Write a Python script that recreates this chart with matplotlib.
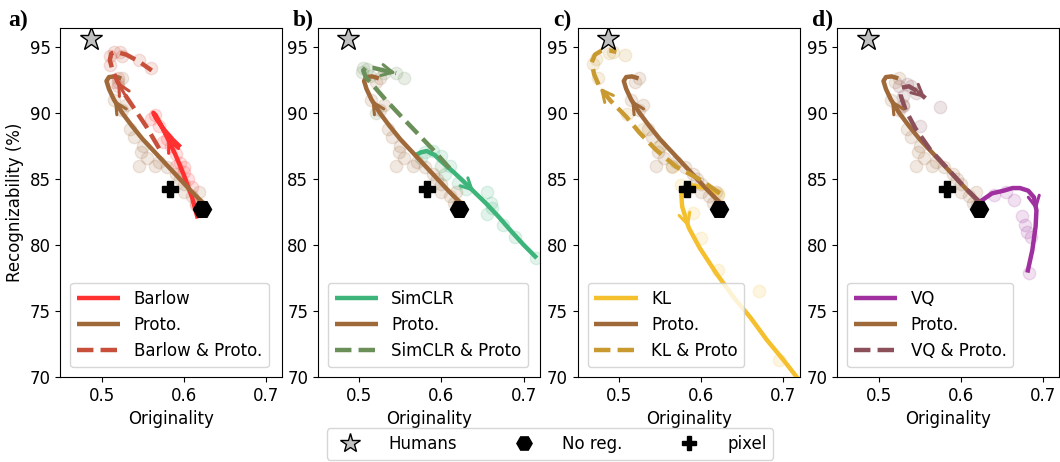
import matplotlib
matplotlib.use("Agg")
import matplotlib.pyplot as plt
from matplotlib.lines import Line2D

# reference markers
HUMANS = (0.487, 95.55)
NOREG = (0.622, 82.7)
PIXEL = (0.583, 84.2)

# Proto. curve (shared by all panels)
proto_x = [0.623, 0.610, 0.595, 0.580, 0.565, 0.550, 0.537, 0.525, 0.515, 0.509, 0.506, 0.509, 0.516, 0.524]
proto_y = [83.2, 84.0, 85.0, 86.0, 87.0, 88.0, 89.0, 90.0, 91.0, 91.8, 92.4, 92.7, 92.75, 92.6]
proto_px = [0.525, 0.520, 0.515, 0.530, 0.525, 0.535, 0.540, 0.550, 0.548, 0.555, 0.565, 0.570, 0.580,
            0.590, 0.595, 0.600, 0.600, 0.610, 0.615, 0.620, 0.618, 0.545]
proto_py = [92.6, 92.3, 91.0, 90.6, 90.2, 88.8, 88.2, 87.5, 87.0, 86.6, 86.0, 86.3, 85.9,
            85.4, 85.0, 84.6, 84.0, 83.7, 83.2, 83.0, 84.0, 86.0]

# Barlow
barlow_x = [0.617, 0.610, 0.600, 0.590, 0.580, 0.572, 0.566, 0.563, 0.566, 0.575, 0.586, 0.596]
barlow_y = [82.0, 83.6, 85.3, 86.8, 88.1, 89.1, 89.8, 90.0, 89.6, 88.8, 88.0, 87.4]
barlow_px = [0.565, 0.560, 0.570, 0.580, 0.585, 0.590, 0.595, 0.600, 0.600, 0.605, 0.610, 0.615, 0.620, 0.590, 0.575]
barlow_py = [89.8, 89.5, 89.0, 88.0, 87.5, 86.9, 86.2, 85.9, 85.5, 85.0, 84.4, 83.0, 82.6, 86.0, 87.8]
bp_x = [0.570, 0.555, 0.540, 0.528, 0.519, 0.513, 0.510, 0.512, 0.518, 0.530, 0.545, 0.561]
bp_y = [87.3, 88.9, 90.3, 91.4, 92.4, 93.3, 94.0, 94.5, 94.6, 94.4, 93.9, 93.2]
bp_px = [0.510, 0.515, 0.525, 0.545, 0.560, 0.510, 0.520, 0.515, 0.520, 0.522]
bp_py = [94.3, 94.6, 94.3, 94.0, 93.4, 93.6, 92.6, 92.3, 92.0, 94.6]

# SimCLR
simclr_x = [0.569, 0.575, 0.582, 0.592, 0.602, 0.615, 0.627, 0.640, 0.655, 0.670, 0.684, 0.700, 0.716]
simclr_y = [86.8, 87.0, 87.1, 86.8, 86.2, 85.5, 84.8, 84.0, 83.1, 82.1, 81.1, 80.0, 79.0]
simclr_px = [0.575, 0.580, 0.590, 0.600, 0.610, 0.605, 0.620, 0.630, 0.655, 0.660, 0.655, 0.662, 0.675, 0.690, 0.715]
simclr_py = [86.6, 87.0, 87.1, 86.7, 86.0, 85.4, 84.7, 84.2, 84.0, 83.2, 82.3, 82.8, 81.5, 80.6, 79.0]
sp_x = [0.610, 0.590, 0.570, 0.550, 0.532, 0.518, 0.508, 0.505, 0.508, 0.517, 0.530, 0.545]
sp_y = [85.8, 87.2, 88.5, 89.8, 91.0, 92.0, 92.7, 93.2, 93.4, 93.4, 93.2, 93.0]
sp_px = [0.505, 0.510, 0.503, 0.530, 0.545, 0.555, 0.520, 0.513, 0.600]
sp_py = [93.4, 93.3, 93.1, 93.0, 93.0, 92.6, 90.0, 92.8, 86.0]

# KL
kl_x = [0.622, 0.605, 0.590, 0.580, 0.576, 0.577, 0.585, 0.598, 0.619, 0.640, 0.660, 0.680, 0.700, 0.725]
kl_y = [83.9, 84.3, 84.5, 84.4, 83.8, 82.9, 81.3, 79.8, 77.8, 76.0, 74.5, 72.8, 71.3, 69.3]
kl_px = [0.575, 0.585, 0.590, 0.600, 0.620, 0.670, 0.695, 0.620]
kl_py = [84.5, 84.3, 82.4, 80.5, 78.1, 76.5, 71.3, 83.9]
kp_x = [0.623, 0.600, 0.570, 0.545, 0.525, 0.509, 0.490, 0.477, 0.470, 0.467, 0.471, 0.479, 0.490, 0.497]
kp_y = [83.9, 84.9, 85.9, 87.2, 88.5, 89.7, 90.9, 91.9, 92.9, 93.8, 94.4, 94.7, 94.7, 94.6]
kp_px = [0.468, 0.472, 0.488, 0.493, 0.508, 0.475, 0.510, 0.530, 0.550, 0.565, 0.620]
kp_py = [93.7, 94.1, 94.5, 94.6, 94.4, 92.6, 89.9, 88.8, 87.5, 85.9, 83.8]

# VQ
vq_x = [0.624, 0.638, 0.652, 0.663, 0.672, 0.682, 0.689, 0.692, 0.691, 0.687, 0.681]
vq_y = [83.3, 83.9, 84.1, 84.3, 84.3, 84.1, 83.6, 82.6, 81.4, 79.6, 77.9]
vq_px = [0.640, 0.655, 0.665, 0.675, 0.678, 0.680, 0.685, 0.683]
vq_py = [83.8, 84.0, 83.4, 82.2, 81.5, 81.0, 80.6, 77.9]
vp_x = [0.622, 0.604, 0.585, 0.563, 0.545, 0.533, 0.527, 0.528, 0.537, 0.548, 0.557]
vp_y = [83.3, 84.4, 85.7, 87.2, 88.8, 90.2, 91.3, 91.9, 92.0, 91.6, 91.1]
vp_px = [0.525, 0.540, 0.545, 0.530, 0.575, 0.550, 0.530, 0.535]
vp_py = [92.0, 92.0, 91.5, 91.3, 90.4, 89.0, 90.5, 92.2]

PROTO_C = "#a0693a"
PROTO_ARROW = 8
panels = [
    ("a)", "Barlow", "#ff3030", barlow_x, barlow_y, barlow_px, barlow_py, 4,
     "Barlow & Proto.", "#c8503a", bp_x, bp_y, bp_px, bp_py, 4),
    ("b)", "SimCLR", "#3cb47a", simclr_x, simclr_y, simclr_px, simclr_py, 7,
     "SimCLR & Proto", "#6a8f58", sp_x, sp_y, sp_px, sp_py, 11),
    ("c)", "KL", "#f5c02e", kl_x, kl_y, kl_px, kl_py, 6,
     "KL & Proto", "#c99a30", kp_x, kp_y, kp_px, kp_py, 7),
    ("d)", "VQ", "#a0309f", vq_x, vq_y, vq_px, vq_py, 7,
     "VQ & Proto.", "#8c505a", vp_x, vp_y, vp_px, vp_py, 10),
]

plt.rcParams["font.family"] = ["DejaVu Sans"]
fig = plt.figure(figsize=(10.6, 4.62), dpi=100)
lefts = [0.057, 0.300, 0.545, 0.790]
label_x = [0.008, 0.276, 0.522, 0.766]


def draw_path(ax, xs, ys, px, py, color, ls, label, ai):
    ax.scatter(px, py, s=80, color=color, alpha=0.15, edgecolors=color,
               linewidths=1.0, zorder=2)
    ax.plot(xs, ys, color=color, lw=3.2, ls=ls, label=label,
            solid_joinstyle="round", solid_capstyle="butt", zorder=4)
    ax.annotate("", xy=(xs[ai], ys[ai]), xytext=(xs[ai - 1], ys[ai - 1]),
                arrowprops=dict(arrowstyle="->", color=color, lw=2.2,
                                mutation_scale=20, shrinkA=0, shrinkB=0),
                zorder=6)


for k, (tag, name, c, mx, my, mpx, mpy, ma, cname, cc, cx, cy, cpx, cpy, ca) in enumerate(panels):
    ax = fig.add_axes([lefts[k], 0.184, 0.2095, 0.755])
    draw_path(ax, mx, my, mpx, mpy, c, "-", name, ma)
    draw_path(ax, proto_x, proto_y, proto_px, proto_py, PROTO_C, "-", "Proto.", PROTO_ARROW)
    draw_path(ax, cx, cy, cpx, cpy, cc, "--", cname, ca)

    ax.plot(*HUMANS, marker="*", ms=17, mfc="#c0c0c0", mec="black", mew=1.0, ls="none", zorder=8)
    ax.plot(*NOREG, marker="H", ms=13, color="black", ls="none", zorder=8)
    ax.plot(*PIXEL, marker="P", ms=12, color="black", ls="none", zorder=8)

    ax.set_xlim(0.45, 0.72)
    ax.set_ylim(70, 96.4)
    ax.set_xticks([0.5, 0.6, 0.7])
    ax.set_yticks([70, 75, 80, 85, 90, 95])
    ax.tick_params(labelsize=12)
    ax.set_xlabel("Originality", fontsize=12)
    if k == 0:
        ax.set_ylabel("Recognizability (%)", fontsize=12)
    ax.legend(loc="lower left", fontsize=12, handlelength=2.6, borderaxespad=0.6)
    fig.text(label_x[k], 0.955, tag, fontsize=17, fontweight="bold",
             family="Liberation Serif", va="center")

handles = [
    Line2D([], [], marker="*", ms=15, mfc="#c0c0c0", mec="black", ls="none"),
    Line2D([], [], marker="H", ms=11, color="black", ls="none"),
    Line2D([], [], marker="P", ms=10, color="black", ls="none"),
]
fig.legend(handles, ["Humans", "No reg.", "pixel"], loc="center",
           bbox_to_anchor=(0.519, 0.039), ncol=3, fontsize=12,
           columnspacing=3.0, handletextpad=1.3, borderpad=0.4)

fig.savefig("out.png", dpi=100)
